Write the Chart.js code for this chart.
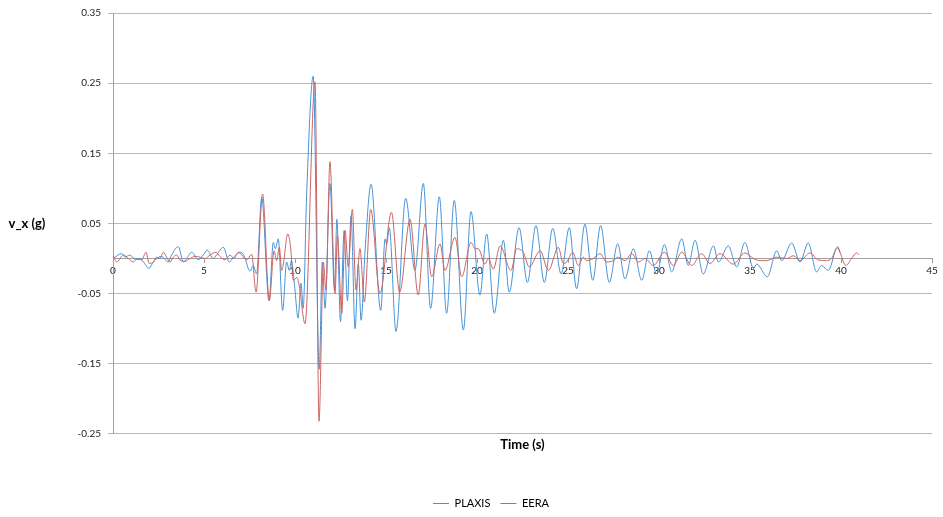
<!DOCTYPE html>
<html>
<head>
<meta charset="utf-8">
<script src="https://cdn.jsdelivr.net/npm/chart.js@4.4.1/dist/chart.umd.min.js"></script>
<style>
  html, body { margin: 0; padding: 0; background: #fff; }
  #wrap { width: 943px; height: 517px; position: relative; }
</style>
</head>
<body>
<div id="wrap"><canvas id="chart"></canvas></div>
<script>
// --- Data ---
const xTicks = [0, 5, 10, 15, 20, 25, 30, 35, 40, 45];
const yTicks = [-0.25, -0.15, -0.05, 0.05, 0.15, 0.25, 0.35];

const plaxisTime = [
  0, 0.48, 0.66, 0.93, 1.21, 1.48, 1.67, 1.99, 2.12, 2.31,
  2.67, 3.04, 3.22, 3.59, 3.87, 4.05, 4.32, 4.69, 4.96, 5.18,
  5.51, 5.69, 6.06, 6.39, 6.57, 6.98, 7.2, 7.53, 7.7, 7.89,
  8.17, 8.57, 8.81, 8.92, 9.08, 9.32, 9.54, 9.69, 9.8, 9.98,
  10.17, 10.33, 10.45, 10.64, 11.0, 11.33, 11.5, 11.65, 11.92, 12.17,
  12.3, 12.5, 12.7, 12.88, 13.08, 13.3, 13.48, 13.63, 13.85, 14.18,
  14.71, 14.95, 15.04, 15.18, 15.55, 16.08, 16.59, 17.05, 17.45, 17.93,
  18.33, 18.75, 19.25, 19.67, 20.16, 20.53, 20.95, 21.45, 21.77, 22.31,
  22.77, 23.24, 23.7, 24.16, 24.62, 25.07, 25.47, 25.93, 26.36, 26.79,
  27.27, 27.73, 28.13, 28.59, 29.05, 29.47, 29.87, 30.3, 30.7, 31.25,
  31.61, 31.98, 32.43, 32.99, 33.26, 33.81, 34.27, 34.72, 35.19, 35.37,
  35.95, 36.47, 36.74, 37.29, 37.75, 38.2, 38.66, 38.93, 39.3, 39.82,
  39.95
];
const plaxisVx = [
  0, 0.007, 0.002, 0.005, -0.001, 0, -0.005, -0.014, -0.009, -0.002,
  0.003, -0.005, 0.005, 0.017, -0.005, 0, 0.009, -0.002, 0.005, 0.012,
  0, 0.005, 0.016, -0.005, 0, 0.009, 0.004, -0.018, -0.01, -0.022,
  0.087, -0.06, 0.023, 0.014, 0.028, -0.074, -0.005, -0.017, -0.003, -0.04,
  -0.085, -0.035, -0.071, 0.092, 0.26, -0.158, -0.005, -0.071, 0.107, -0.045,
  0.056, -0.09, 0.04, -0.06, 0.061, -0.1, -0.008, -0.088, 0.011, 0.106,
  -0.074, 0.028, 0.021, 0.044, -0.104, 0.086, -0.017, 0.107, -0.071, 0.088,
  -0.078, 0.083, -0.102, 0.067, -0.052, 0.035, -0.078, 0.026, -0.048, 0.044,
  -0.034, 0.047, -0.034, 0.043, -0.022, 0.044, -0.043, 0.049, -0.031, 0.047,
  -0.034, 0.021, -0.029, 0.014, -0.031, 0.011, -0.022, 0.02, -0.019, 0.028,
  -0.01, 0.026, -0.022, 0.018, -0.005, 0.018, -0.012, 0.023, -0.014, -0.008,
  -0.026, 0.011, -0.003, 0.022, -0.005, 0.022, -0.019, -0.01, -0.017, 0.017,
  0.008
];

const eeraTime = [
  0, 0.2, 0.57, 0.85, 1.12, 1.3, 1.58, 1.81, 1.99, 2.21,
  2.4, 2.58, 2.77, 2.95, 3.13, 3.32, 3.5, 3.68, 3.96, 4.23,
  4.51, 4.78, 5.06, 5.33, 5.66, 5.88, 6.15, 6.43, 6.65, 6.89,
  7.07, 7.34, 7.62, 7.86, 8.22, 8.59, 8.85, 8.99, 9.14, 9.27,
  9.36, 9.6, 9.76, 9.91, 10.1, 10.24, 10.55, 11.1, 11.32, 11.56,
  11.7, 11.92, 12.2, 12.33, 12.57, 12.75, 12.93, 13.15, 13.35, 13.57,
  13.81, 14.16, 14.67, 15.3, 15.75, 16.32, 16.77, 17.14, 17.51, 17.97,
  18.24, 18.79, 19.16, 19.67, 19.9, 20.07, 20.44, 20.62, 20.9, 21.27,
  21.87, 22.18, 22.54, 22.87, 23.47, 23.92, 24.47, 24.74, 24.93, 25.26,
  25.57, 25.84, 26.02, 26.39, 26.76, 27.12, 27.49, 27.76, 28.13, 28.5,
  28.87, 29.23, 29.69, 30.3, 30.79, 31.25, 31.79, 32.34, 32.8, 33.35,
  34.08, 34.72, 35.19, 35.55, 35.92, 36.47, 37.02, 37.39, 37.75, 38.3,
  38.75, 39.2, 39.48, 39.8, 40.27, 40.58, 40.86, 41.0
];
const eeraVx = [
  0.005, -0.005, 0.005, 0, -0.005, -0.001, -0.002, 0.009, -0.007, -0.005,
  0.002, 0, 0.009, 0.002, -0.005, 0.002, 0.005, -0.002, -0.004, 0,
  0.003, 0.002, 0, 0.005, 0.009, 0.003, -0.002, 0.005, 0, 0.009,
  0.005, -0.002, 0.006, -0.048, 0.092, -0.06, 0.011, -0.003, 0.016, -0.017,
  -0.008, 0.035, 0.016, -0.031, -0.027, -0.04, -0.093, 0.252, -0.232, -0.005,
  -0.045, 0.138, -0.05, 0.033, -0.078, 0.04, -0.012, 0.07, -0.045, 0.014,
  -0.062, 0.07, -0.05, 0.066, -0.048, 0.056, -0.052, 0.049, -0.026, 0.021,
  -0.017, 0.03, -0.026, 0.023, 0.014, 0.014, -0.008, 0, -0.015, 0.018,
  -0.017, 0.014, 0.009, -0.012, 0.011, -0.017, 0.016, -0.007, -0.005, 0.009,
  -0.01, 0.002, -0.003, 0, 0.007, -0.005, -0.003, 0.002, -0.003, 0.007,
  -0.005, 0, -0.01, 0.009, -0.01, 0.009, -0.01, 0.007, -0.007, 0.007,
  -0.008, 0.008, 0, -0.003, -0.003, 0.002, 0, 0.004, -0.003, 0.008,
  -0.002, -0.003, 0, 0.015, -0.01, 0, 0.008, 0.005
];

// --- Helpers ---
const toPoints = (xs, ys) => xs.map((x, i) => ({ x: x, y: ys[i] }));

// horizontal y-axis title, Excel style
const yTitle = {
  id: 'yTitle',
  afterDraw(chart) {
    const { ctx, chartArea } = chart;
    ctx.save();
    ctx.font = 'bold 13px Lato';
    ctx.fillStyle = '#000';
    ctx.textAlign = 'center';
    ctx.textBaseline = 'middle';
    ctx.fillText('v_x (g)', 27, (chartArea.top + chartArea.bottom) / 2);
    ctx.restore();
  }
};

Chart.defaults.font.family = 'Lato';

new Chart(document.getElementById('chart'), {
  type: 'line',
  data: {
    datasets: [
      {
        label: 'PLAXIS',
        data: toPoints(plaxisTime, plaxisVx),
        borderColor: '#4593d8',
        backgroundColor: '#4593d8',
        order: 1
      },
      {
        label: 'EERA',
        data: toPoints(eeraTime, eeraVx),
        borderColor: '#cc6461',
        backgroundColor: '#cc6461',
        order: 0
      }
    ]
  },
  options: {
    responsive: true,
    maintainAspectRatio: false,
    animation: false,
    layout: { padding: { left: 50, right: 11, top: 9, bottom: -2 } },
    elements: {
      point: { radius: 0 },
      line: { borderWidth: 1, cubicInterpolationMode: 'monotone' }
    },
    plugins: {
      legend: {
        position: 'bottom',
        labels: {
          usePointStyle: true,
          pointStyle: 'line',
          pointStyleWidth: 16,
          padding: 10,
          color: '#000',
          font: { size: 11 },
          sort: (a, b) => a.datasetIndex - b.datasetIndex
        }
      },
      title: {
        display: true,
        text: 'Time (s)',
        position: 'bottom',
        fullSize: false,
        weight: 500,
        color: '#000',
        font: { size: 13, weight: 'bold' },
        padding: { top: 3.5, bottom: 35 }
      },
      tooltip: { enabled: false }
    },
    scales: {
      x: {
        type: 'linear',
        position: { y: 0 },
        min: 0,
        max: 45,
        afterBuildTicks: (s) => { s.ticks = xTicks.map(v => ({ value: v })); },
        grid: { drawOnChartArea: false, tickLength: 4, color: '#a0a0a0' },
        border: { color: '#a0a0a0' },
        ticks: { padding: 2, maxRotation: 0, autoSkip: false, color: '#222', font: { size: 10 } }
      },
      y: {
        min: -0.25,
        max: 0.35,
        afterBuildTicks: (s) => { s.ticks = yTicks.map(v => ({ value: v })); },
        afterFit: (s) => { s.width = 63; },
        grid: { color: '#b8b8b8', tickLength: 5 },
        border: { color: '#a0a0a0' },
        ticks: {
          padding: 7,
          color: '#222',
          font: { size: 10 },
          callback: (v) => v.toFixed(2)
        }
      }
    }
  },
  plugins: [yTitle]
});
</script>
</body>
</html>
